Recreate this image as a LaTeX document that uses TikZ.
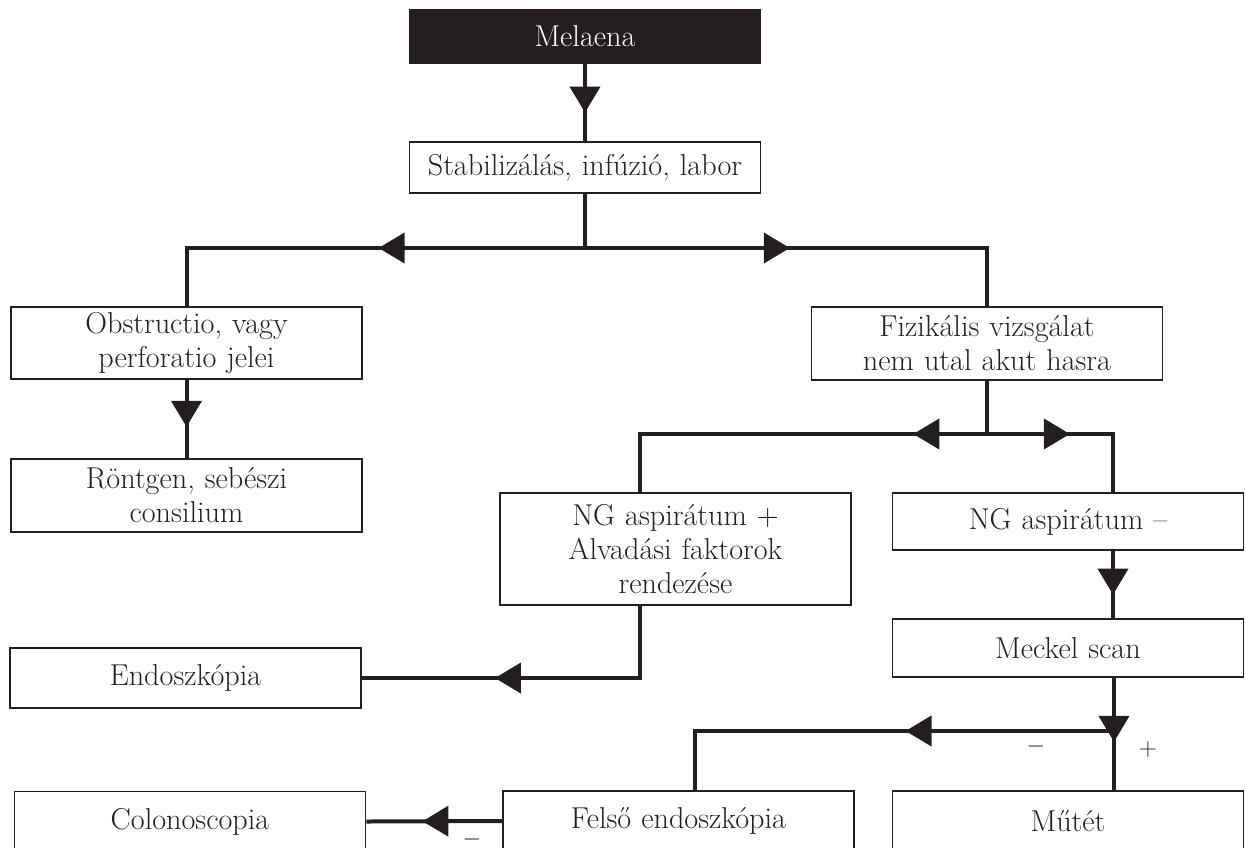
\documentclass[tikz,border=0pt]{standalone}
\usepackage{tikz}
\usetikzlibrary{arrows.meta, decorations.markings}
\definecolor{ink}{HTML}{231F20}
\tikzstyle{block} = [rectangle, minimum width=175.5pt, text width=172pt,
inner sep=1.5pt, align=center, draw=ink, line width=0.8pt,
font=\fontsize{15.1}{17}\selectfont, text=ink]
\tikzstyle{topblock} = [block, fill=ink, text=white]
\tikzstyle{sign} = [font=\fontsize{12}{14}\selectfont, text=ink]
\tikzstyle{line} = [line width=2pt, draw=ink]
\tikzset{tipat/.style={postaction={decorate}, decoration={markings,
mark=at position #1 with {\arrow{Triangle[length=13pt,width=15pt]}}}}}

\begin{document}
\begin{tikzpicture}[x=0.5pt, y=-0.5pt]
\useasboundingbox (0,0) rectangle (1246,847);
\clip (0,0) rectangle (1246,847);
%Calling the blocks
\node (melaena) [topblock, minimum height=26.5pt] at (585,36.5) {Melaena};
\node (stab) [block, minimum height=25.5pt] at (585,167.5) {Stabilizálás, infúzió, labor};
\node (obstr) [block, minimum height=36pt] at (186.5,343) {Obstructio, vagy\\ perforatio jelei};
\node (rtg) [block, minimum height=36.5pt] at (186.5,495.5) {Röntgen, sebészi\\ consilium};
\node (fiz) [block, minimum height=36.5pt] at (987,343.5) {Fizikális vizsgálat\\ nem utal akut hasra};
\node (ngplus) [block, minimum height=56pt] at (675.5,549) {NG aspirátum +\\ Alvadási faktorok\\ rendezése};
\node (ngminus) [block, minimum height=28.5pt] at (1068,521.5) {NG aspirátum –};
\node (meckel) [block, minimum height=29pt] at (1068,648) {Meckel scan};
\node (endo) [block, minimum height=30pt] at (185.5,678) {Endoszkópia};
\node (colon) [block, minimum height=30pt] at (190,821.5) {Colonoscopia};
\node (felso) [block, minimum height=30pt] at (678.5,821) {Felső endoszkópia};
\node (mutet) [block, minimum height=30pt] at (1068,821) {Műtét};
% signs
\node (minus1) [sign] at (1036,746) {$-$};
\node (plus1) [sign] at (1148,749) {$+$};
\node (minus2) [sign] at (472,839) {$-$};
% split points
\coordinate (split1) at (585,248);
\coordinate (split2) at (987,434);
\coordinate (split3) at (1114,731);
% Drawing the arrows between blocks
\draw[line, tipat=0.63] (melaena) -- (stab);
\draw[line] (stab) -- (split1);
\draw[line, tipat=0.452] (split1) -| (obstr);
\draw[line, tipat=0.445] (split1) -| (fiz);
\draw[line, tipat=0.6] (obstr) -- (rtg);
\draw[line] (fiz) -- (split2);
\draw[line, tipat=0.182] (split2) -| ([xshift=-17.75pt]ngplus.north);
\draw[line, tipat=0.45] (split2) -| ([xshift=22.5pt]ngminus.north);
\draw[line, tipat=0.62] ([xshift=-17.75pt]ngplus.south) |- (endo.east);
\draw[line, tipat=0.65] ([xshift=22.5pt]ngminus.south) -- ([xshift=22.5pt]meckel.north);
\draw[line, tipat=0.57] ([xshift=23pt]meckel.south) -- ([xshift=23pt]mutet.north);
\draw[line, tipat=0.436] (split3) -| ([xshift=8.25pt]felso.north);
\draw[line, tipat=0.587] (felso.west) -- (colon.east);
\end{tikzpicture}
\end{document}
